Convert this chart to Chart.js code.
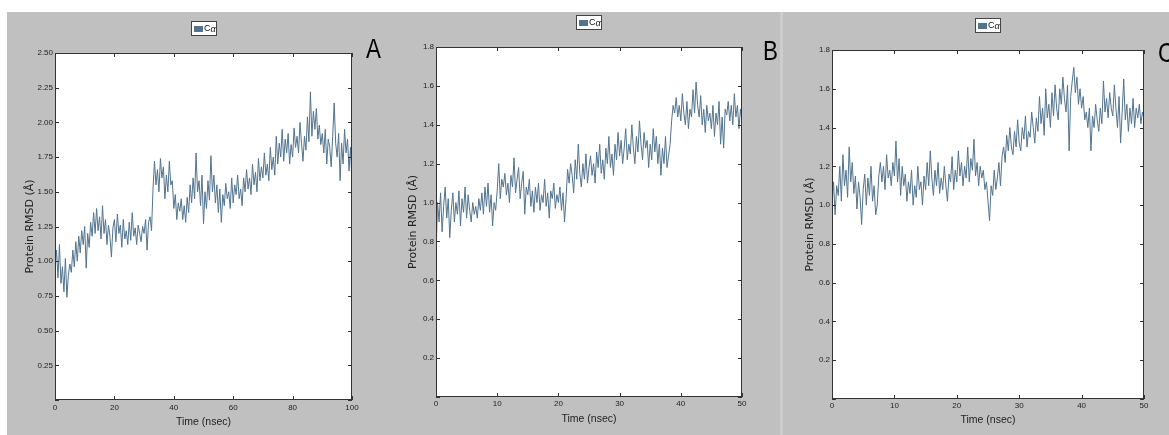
<!DOCTYPE html>
<html>
<head>
<meta charset="utf-8">
<script src="https://cdn.jsdelivr.net/npm/chart.js@4.4.0/dist/chart.umd.min.js"></script>
<style>
  body { margin: 0; width: 1169px; height: 435px; overflow: hidden; background: #fff; position: relative; }
  #bg { position: absolute; left: 7px; top: 12px; width: 1162px; height: 423px; background: #c0c0c0; }
  .seam { position: absolute; left: 780px; top: 12px; width: 3px; height: 423px; background: #cdcdcd; }
  .panel { position: absolute; top: 12px; height: 423px; }
  .tag { position: absolute; font-family: 'Liberation Sans', sans-serif; font-size: 28px; line-height: 1; color: #000;
         transform: scaleX(0.8); transform-origin: left top; }
</style>
</head>
<body>
<div id="bg"></div>
<div class="seam"></div>
<div class="panel" style="left:7px;width:375px"><canvas id="chartA" width="375" height="423"></canvas></div>
<div class="panel" style="left:382px;width:393px"><canvas id="chartB" width="393" height="423"></canvas></div>
<div class="panel" style="left:775px;width:394px"><canvas id="chartC" width="394" height="423"></canvas></div>
<div class="tag" style="left:366px;top:35px">A</div>
<div class="tag" style="left:763px;top:37px">B</div>
<div class="tag" style="left:1158px;top:39px">C</div>

<script>
// --- data (RMSD in Å) ---
const seriesLabel = 'Cα';

// A: 0-100 ns, one value every 0.5 ns
const stepA = 0.5;
const rmsdA = [
  0.95, 1.08, 0.88, 1.12, 0.84, 0.96, 0.78, 1.02, 0.74, 0.90,
  0.98, 0.92, 1.08, 0.96, 1.14, 1.00, 1.18, 1.06, 1.22, 1.12,
  1.25, 0.95, 1.20, 1.10, 1.28, 1.18, 1.35, 1.20, 1.38, 1.22,
  1.32, 1.16, 1.40, 1.20, 1.30, 1.12, 1.26, 1.18, 1.03, 1.24,
  1.30, 1.14, 1.34, 1.20, 1.26, 1.10, 1.30, 1.16, 1.22, 1.12,
  1.28, 1.15, 1.35, 1.18, 1.24, 1.12, 1.26, 1.20, 1.14, 1.25,
  1.20, 1.30, 1.08, 1.28, 1.32, 1.22, 1.52, 1.72, 1.55, 1.66,
  1.50, 1.74, 1.60, 1.68, 1.45, 1.62, 1.50, 1.72, 1.55, 1.58,
  1.38, 1.48, 1.30, 1.42, 1.36, 1.45, 1.30, 1.40, 1.28, 1.46,
  1.35, 1.55, 1.42, 1.60, 1.45, 1.78, 1.50, 1.58, 1.40, 1.62,
  1.27, 1.50, 1.38, 1.58, 1.44, 1.76, 1.50, 1.62, 1.42, 1.55,
  1.35, 1.52, 1.28, 1.48, 1.40, 1.56, 1.45, 1.50, 1.38, 1.60,
  1.42, 1.55, 1.48, 1.62, 1.45, 1.52, 1.40, 1.60, 1.50, 1.66,
  1.52, 1.60, 1.48, 1.70, 1.55, 1.64, 1.50, 1.74, 1.58, 1.68,
  1.60, 1.78, 1.62, 1.70, 1.58, 1.82, 1.66, 1.75, 1.62, 1.90,
  1.70, 1.85, 1.75, 1.95, 1.72, 1.88, 1.78, 1.92, 1.70, 1.84,
  1.75, 1.96, 1.82, 1.90, 1.78, 2.00, 1.85, 1.72, 1.90, 1.80,
  2.04, 1.86, 2.22, 1.90, 2.08, 1.95, 2.10, 1.88, 1.98, 1.84,
  1.92, 1.78, 1.95, 1.70, 1.88, 1.82, 1.68, 1.90, 2.14, 1.85,
  1.75, 1.92, 1.58, 1.85, 1.70, 1.95, 1.78, 1.88, 1.65, 1.82,
  1.56
];

// B: 0-50 ns, one value every 0.25 ns
const stepB = 0.25;
const rmsdB = [
  0.72, 1.00, 0.90, 1.05, 0.85, 0.98, 1.08, 0.92, 1.02, 0.82, 0.96, 1.05, 0.90, 1.00, 0.94, 1.06, 0.88, 1.02, 0.95, 1.08,
  0.92, 1.04, 0.96, 0.90, 1.00, 0.94, 0.98, 0.92, 1.02, 0.96, 1.05, 0.94, 1.08, 0.98, 1.10, 0.95, 1.04, 0.88, 1.00, 0.96,
  1.06, 1.20, 1.02, 1.12, 1.08, 1.15, 1.04, 1.10, 1.00, 1.14, 1.08, 1.23, 1.05, 1.12, 1.18, 1.02, 1.10, 1.16, 0.94, 1.08,
  1.04, 1.12, 0.98, 1.06, 0.95, 1.08, 1.00, 1.10, 0.96, 1.04, 1.00, 1.12, 0.98, 1.05, 0.92, 1.06, 1.02, 1.10, 0.97, 1.04,
  1.00, 1.08, 0.96, 1.05, 0.90, 1.02, 1.17, 1.10, 1.20, 1.14, 1.05, 1.22, 1.12, 1.30, 1.15, 1.08, 1.20, 1.12, 1.25, 1.10,
  1.18, 1.24, 1.14, 1.20, 1.10, 1.26, 1.18, 1.30, 1.15, 1.22, 1.12, 1.28, 1.20, 1.34, 1.18, 1.25, 1.14, 1.30, 1.22, 1.36,
  1.24, 1.32, 1.20, 1.28, 1.38, 1.22, 1.30, 1.25, 1.40, 1.28, 1.20, 1.34, 1.26, 1.42, 1.30, 1.22, 1.36, 1.28, 1.32, 1.18,
  1.30, 1.22, 1.38, 1.26, 1.34, 1.20, 1.30, 1.14, 1.28, 1.20, 1.34, 1.18, 1.24, 1.30, 1.42, 1.50, 1.46, 1.54, 1.44, 1.50,
  1.42, 1.56, 1.46, 1.40, 1.52, 1.38, 1.48, 1.44, 1.58, 1.46, 1.62, 1.50, 1.44, 1.55, 1.40, 1.48, 1.36, 1.50, 1.42, 1.46,
  1.38, 1.50, 1.34, 1.46, 1.40, 1.52, 1.30, 1.44, 1.28, 1.48, 1.45, 1.52, 1.42, 1.50, 1.40, 1.56, 1.44, 1.50, 1.38, 1.48,
  1.42
];

// C: 0-50 ns, one value every 0.25 ns
const stepC = 0.25;
const rmsdC = [
  1.00, 1.12, 0.95, 1.10, 1.05, 1.20, 1.02, 1.26, 1.10, 1.18, 1.04, 1.30, 1.12, 1.22, 1.06, 1.15, 0.98, 1.12, 1.04, 0.90,
  1.08, 1.16, 1.00, 1.14, 1.05, 1.20, 1.02, 1.10, 0.95, 1.00, 1.15, 1.22, 1.12, 1.20, 1.08, 1.26, 1.14, 1.18, 1.10, 1.22,
  1.15, 1.33, 1.12, 1.24, 1.05, 1.20, 1.10, 1.16, 1.02, 1.12, 1.06, 1.18, 1.00, 1.10, 1.04, 1.20, 1.08, 1.12, 1.00, 1.15,
  1.08, 1.22, 1.10, 1.28, 1.14, 1.05, 1.18, 1.10, 1.22, 1.06, 1.14, 1.08, 1.20, 1.10, 1.02, 1.16, 1.12, 1.25, 1.08, 1.18,
  1.12, 1.28, 1.15, 1.22, 1.10, 1.20, 1.14, 1.30, 1.12, 1.24, 1.18, 1.34, 1.15, 1.22, 1.10, 1.20, 1.14, 1.18, 1.08, 1.12,
  1.02, 0.92, 1.10, 1.05, 1.18, 1.08, 1.14, 1.22, 1.10, 1.25, 1.30, 1.22, 1.36, 1.28, 1.40, 1.30, 1.26, 1.38, 1.30, 1.44,
  1.32, 1.28, 1.40, 1.34, 1.46, 1.30, 1.38, 1.35, 1.48, 1.40, 1.32, 1.45, 1.38, 1.56, 1.42, 1.50, 1.36, 1.60, 1.45, 1.52,
  1.40, 1.58, 1.46, 1.62, 1.50, 1.44, 1.60, 1.52, 1.66, 1.55, 1.48, 1.62, 1.28, 1.56, 1.64, 1.71, 1.58, 1.66, 1.52, 1.60,
  1.50, 1.56, 1.44, 1.48, 1.40, 1.50, 1.28, 1.46, 1.40, 1.52, 1.44, 1.38, 1.50, 1.42, 1.64, 1.48, 1.55, 1.45, 1.58, 1.50,
  1.46, 1.62, 1.50, 1.40, 1.56, 1.32, 1.48, 1.65, 1.44, 1.52, 1.38, 1.50, 1.42, 1.55, 1.40, 1.50, 1.45, 1.52, 1.42, 1.48,
  1.45
];

const LINE = '#52748f';
const INK = '#222';
const SANS = "'Liberation Sans', sans-serif";

// white plot area, frame, inward ticks and the boxed legend
const framePlugin = {
  id: 'frame',
  beforeDraw(chart) {
    const { ctx, chartArea: a } = chart;
    ctx.save();
    ctx.fillStyle = '#fff';
    ctx.fillRect(a.left, a.top, a.width, a.height);
    ctx.restore();
  },
  afterDraw(chart) {
    const { ctx, chartArea: a, scales: { x, y } } = chart;
    ctx.save();
    ctx.strokeStyle = '#333';
    ctx.lineWidth = 1;
    ctx.strokeRect(a.left + 0.5, a.top + 0.5, a.width - 1, a.height - 1);

    ctx.beginPath();
    x.ticks.forEach(t => {
      const px = Math.round(x.getPixelForValue(t.value)) + 0.5;
      ctx.moveTo(px, a.bottom); ctx.lineTo(px, a.bottom - 4);
      ctx.moveTo(px, a.top); ctx.lineTo(px, a.top + 4);
    });
    y.ticks.forEach(t => {
      const py = Math.round(y.getPixelForValue(t.value)) + 0.5;
      ctx.moveTo(a.left, py); ctx.lineTo(a.left + 4, py);
      ctx.moveTo(a.right, py); ctx.lineTo(a.right - 4, py);
    });
    ctx.stroke();

    // legend box
    const ds = chart.data.datasets[0];
    const bw = 26, bh = 15;
    const bx = Math.round((a.left + a.right) / 2 - bw / 2), by = Math.round(a.top - 32);
    ctx.fillStyle = '#fff';
    ctx.fillRect(bx, by, bw, bh);
    ctx.strokeStyle = '#444';
    ctx.strokeRect(bx + 0.5, by + 0.5, bw - 1, bh - 1);
    ctx.fillStyle = ds.borderColor;
    ctx.fillRect(bx + 3, by + 5, 9, 6);
    ctx.fillStyle = '#111';
    ctx.textBaseline = 'middle';
    ctx.font = '9px ' + SANS;
    const first = ds.label.slice(0, 1);
    ctx.fillText(first, bx + 13, by + 8);
    const w = ctx.measureText(first).width;
    ctx.font = 'italic 9px ' + SANS;
    ctx.fillText(ds.label.slice(1), bx + 13 + w, by + 8);
    ctx.restore();
  }
};

function makePanel(id, vals, step, cfg) {
  const points = vals.map((v, i) => ({ x: i * step, y: v }));
  new Chart(document.getElementById(id), {
    type: 'line',
    data: {
      datasets: [{
        label: seriesLabel,
        data: points,
        borderColor: LINE,
        borderWidth: 1,
        pointRadius: 0,
        tension: 0,
        fill: false
      }]
    },
    options: {
      responsive: false,
      animation: false,
      layout: { padding: { top: cfg.padTop, right: cfg.padRight, left: 0, bottom: 0 } },
      plugins: { legend: { display: false }, tooltip: { enabled: false } },
      scales: {
        x: {
          type: 'linear',
          min: 0, max: cfg.xMax,
          grid: { display: false, drawTicks: false },
          border: { display: false },
          ticks: { stepSize: cfg.xStep, padding: cfg.xTickPad, color: INK, font: { family: SANS, size: 8 }, maxRotation: 0 },
          title: { display: true, text: 'Time (nsec)', color: INK, font: { family: SANS, size: 10.5 }, padding: { top: 0, bottom: cfg.xTitlePad } },
          afterFit(scale) { scale.height = cfg.xHeight; }
        },
        y: {
          min: 0, max: cfg.yMax,
          grid: { display: false, drawTicks: false },
          border: { display: false },
          ticks: {
            stepSize: cfg.yStep, padding: 2, color: INK, font: { family: SANS, size: 8 },
            callback: v => (v === 0 ? '' : v.toFixed(cfg.yDigits))
          },
          title: { display: true, text: 'Protein RMSD (Å)', color: INK, font: { family: "'DejaVu Sans', sans-serif", size: 11 }, padding: { top: cfg.yTitlePad, bottom: 0 } },
          afterFit(scale) { scale.width = cfg.yWidth; }
        }
      }
    },
    plugins: [framePlugin]
  });
}

makePanel('chartA', rmsdA, stepA, {
  xMax: 100, xStep: 20, yMax: 2.5, yStep: 0.25, yDigits: 2,
  padTop: 41, padRight: 30, yWidth: 48, xHeight: 35,
  xTickPad: 3, xTitlePad: 7, yTitlePad: 17
});
makePanel('chartB', rmsdB, stepB, {
  xMax: 50, xStep: 10, yMax: 1.8, yStep: 0.2, yDigits: 1,
  padTop: 35, padRight: 33, yWidth: 54, xHeight: 38,
  xTickPad: 2, xTitlePad: 10, yTitlePad: 25
});
makePanel('chartC', rmsdC, stepC, {
  xMax: 50, xStep: 10, yMax: 1.8, yStep: 0.2, yDigits: 1,
  padTop: 38, padRight: 25, yWidth: 57, xHeight: 36,
  xTickPad: 2, xTitlePad: 9, yTitlePad: 29
});
</script>
</body>
</html>
